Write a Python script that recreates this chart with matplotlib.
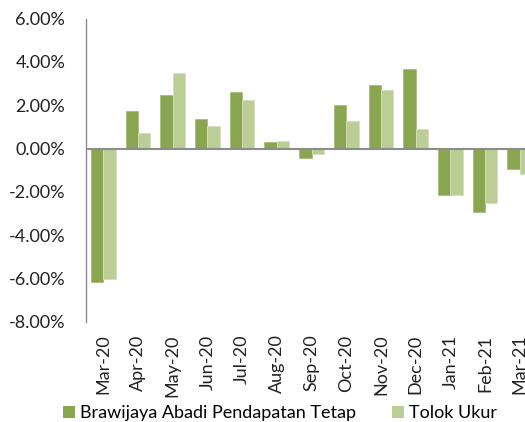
import matplotlib
matplotlib.use("Agg")
import matplotlib.pyplot as plt
import numpy as np
from matplotlib.patches import Patch

categories = ["Mar-20", "Apr-20", "May-20", "Jun-20", "Jul-20", "Aug-20", "Sep-20",
              "Oct-20", "Nov-20", "Dec-20", "Jan-21", "Feb-21", "Mar-21"]
fund = [-6.16, 1.72, 2.48, 1.38, 2.63, 0.29, -0.43, 2.01, 2.91, 3.68, -2.15, -2.91, -0.93]
bench = [-6.02, 0.72, 3.48, 1.06, 2.22, 0.37, -0.25, 1.27, 2.71, 0.89, -2.15, -2.53, -1.15]
yticks = [-8, -6, -4, -2, 0, 2, 4, 6]
series_names = ["Brawijaya Abadi Pendapatan Tetap", "Tolok Ukur"]

c_dark = "#8AA54F"
c_light = "#BBCE95"

plt.rcParams['font.family'] = ['Lato', 'DejaVu Sans']

fig = plt.figure(figsize=(5.25, 4.22), dpi=100)
ax = fig.add_axes([86/525, 1-322/422, (537-86)/525, (322-18.5)/422])

x = np.arange(len(categories))
w = 0.355
ax.bar(x - w/2, fund, w, color=c_dark, edgecolor="#A9C07A", linewidth=0.6, zorder=2)
ax.bar(x + w/2, bench, w, color=c_light, edgecolor="#D3E0BB", linewidth=0.6, zorder=2)

ax.set_xlim(-0.5, len(categories) - 0.5)
ax.set_ylim(-8, 6)
ax.set_yticks(yticks)
ax.set_yticklabels([f"{v:.2f}%" for v in yticks], fontsize=13, color="#222222")
ax.tick_params(axis='y', length=0, pad=15)
ax.set_xticks(x)
ax.set_xticklabels(categories, rotation=90, fontsize=13, color="#222222")
ax.tick_params(axis='x', length=0, pad=9)

for s in ["top", "right", "bottom"]:
    ax.spines[s].set_visible(False)
ax.spines["left"].set_color("#8C8C8C")
ax.spines["left"].set_linewidth(1.0)
ax.axhline(0, color="#8C8C8C", linewidth=1.5, zorder=3)

handles = [Patch(facecolor=c_dark, edgecolor="none"), Patch(facecolor=c_light, edgecolor="none")]
fig.legend(handles, series_names, loc="center", bbox_to_anchor=(280/525, 9/422),
           ncol=2, frameon=False, fontsize=13, handlelength=0.65, handleheight=0.65,
           handletextpad=0.3, columnspacing=2.0, borderpad=0, borderaxespad=0)

fig.savefig("out.png", dpi=100)
